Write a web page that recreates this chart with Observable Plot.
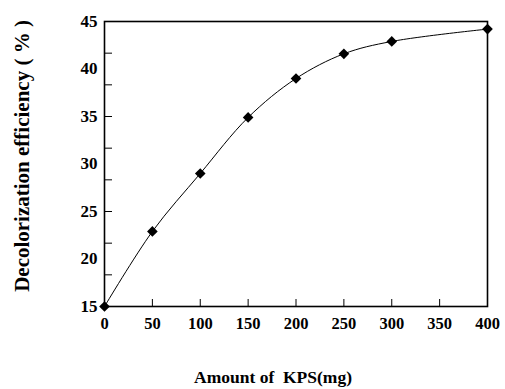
<!DOCTYPE html>
<html>
<head>
<meta charset="utf-8">
<script src="https://cdn.jsdelivr.net/npm/d3@7"></script>
<script src="https://cdn.jsdelivr.net/npm/@observablehq/plot@0.6"></script>
<style>
  html, body { margin: 0; padding: 0; background: #fff; }
  #chart svg { font-family: "Liberation Serif", "Times New Roman", serif; }
</style>
</head>
<body>
<div id="chart"></div>
<script>
const kps = [0, 50, 100, 150, 200, 250, 300, 400];
const efficiency = [15.0, 22.9, 29.0, 34.9, 39.0, 41.6, 42.9, 44.2];
const xTickLabels = [0, 50, 100, 150, 200, 250, 300, 350, 400];
const xInnerTicks = [50, 100, 150, 200, 250, 300, 350];
const yTickLabels = [15, 20, 25, 30, 35, 40, 45];
const yInnerTicks = [1, 2, 3, 4, 5, 6, 7, 8].map(i => 15 + i * 10 / 3);
const xTitle = "Amount of  KPS(mg)";
const yTitle = "Decolorization efficiency ( % )";

const data = kps.map((k, i) => ({x: k, y: efficiency[i]}));

const chart = Plot.plot({
  width: 505,
  height: 389,
  marginLeft: 104,
  marginRight: 18,
  marginTop: 21,
  marginBottom: 83,
  x: {domain: [0, 400]},
  y: {domain: [15, 45]},
  style: {fontFamily: "'Liberation Serif', 'Times New Roman', serif", background: "#fff", overflow: "visible"},
  marks: [
    Plot.axisX(xTickLabels, {tickSize: 0, tickPadding: 11, fontSize: 16.5, fontWeight: "bold", fill: "#000", label: null}),
    Plot.axisX(xInnerTicks, {tickSize: -7, tickFormat: () => "", stroke: "#000", label: null}),
    Plot.axisY(yTickLabels, {tickSize: 0, tickPadding: 7, fontSize: 17, fontWeight: "bold", fill: "#000", label: null}),
    Plot.axisY(yInnerTicks, {tickSize: -8, tickFormat: () => "", stroke: "#000", label: null}),
    Plot.frame({stroke: "#000", strokeWidth: 1.6}),
    Plot.line(data, {x: "x", y: "y", curve: "catmull-rom", stroke: "#000", strokeWidth: 1}),
    Plot.dot(data, {x: "x", y: "y", symbol: "diamond2", r: 4.8, fill: "#000", stroke: "none"}),
    Plot.text([yTitle], {frameAnchor: "left", textAnchor: "middle", rotate: -90, dx: -82, dy: -8, fontSize: 21, fontWeight: "bold", fill: "#000"}),
    Plot.text([xTitle], {frameAnchor: "bottom", textAnchor: "middle", dy: 76, dx: -23, fontSize: 17.5, fontWeight: "bold", fill: "#000"})
  ]
});
document.getElementById("chart").appendChild(chart);
</script>
</body>
</html>
